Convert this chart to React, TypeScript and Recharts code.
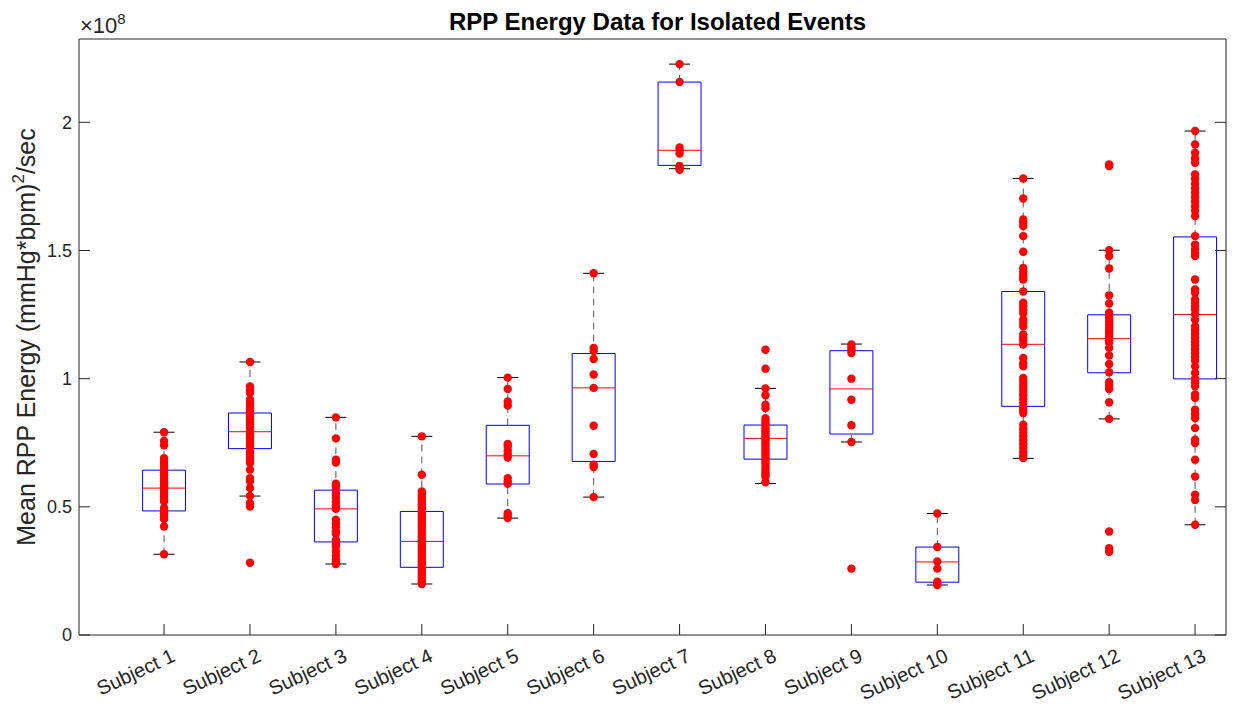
import {
  ComposedChart,
  XAxis,
  YAxis,
  Scatter,
  ReferenceArea,
  ReferenceLine,
  Label,
} from 'recharts';

// values are in units of 1e8 (mmHg*bpm)^2/sec
const subjects = [
  'Subject 1', 'Subject 2', 'Subject 3', 'Subject 4', 'Subject 5', 'Subject 6', 'Subject 7',
  'Subject 8', 'Subject 9', 'Subject 10', 'Subject 11', 'Subject 12', 'Subject 13',
];

const whiskerHigh = [0.791, 1.065, 0.849, 0.775, 1.004, 1.411, 2.227, 0.962, 1.135, 0.474, 1.781, 1.501, 1.966];
const upperQuartile = [0.643, 0.866, 0.565, 0.482, 0.818, 1.098, 2.157, 0.819, 1.109, 0.343, 1.34, 1.249, 1.553];
const medians = [0.573, 0.793, 0.492, 0.365, 0.699, 0.964, 1.891, 0.767, 0.96, 0.285, 1.134, 1.156, 1.25];
const lowerQuartile = [0.484, 0.727, 0.363, 0.264, 0.589, 0.677, 1.832, 0.686, 0.784, 0.206, 0.892, 1.023, 0.999];
const whiskerLow = [0.315, 0.542, 0.277, 0.199, 0.456, 0.538, 1.819, 0.591, 0.753, 0.195, 0.689, 0.843, 0.43];

const s1 = [0.791, 0.757, 0.74, 0.69, 0.68, 0.668, 0.655, 0.645, 0.635, 0.622, 0.61, 0.6, 0.59, 0.58, 0.573, 0.562, 0.55, 0.54, 0.53, 0.521, 0.495, 0.485, 0.475, 0.462, 0.452, 0.423, 0.315];
const s2 = [1.065, 0.97, 0.955, 0.944, 0.918, 0.905, 0.895, 0.885, 0.875, 0.866, 0.858, 0.85, 0.84, 0.83, 0.82, 0.81, 0.8, 0.793, 0.785, 0.775, 0.765, 0.755, 0.745, 0.735, 0.727, 0.715, 0.7, 0.69, 0.68, 0.671, 0.645, 0.612, 0.6, 0.573, 0.542, 0.514, 0.501, 0.282];
const s3 = [0.849, 0.767, 0.684, 0.673, 0.59, 0.58, 0.565, 0.55, 0.535, 0.52, 0.505, 0.492, 0.45, 0.435, 0.42, 0.405, 0.395, 0.371, 0.355, 0.345, 0.326, 0.31, 0.295, 0.285, 0.277];
const s4 = [0.775, 0.625, 0.56, 0.55, 0.54, 0.53, 0.52, 0.51, 0.5, 0.49, 0.48, 0.47, 0.46, 0.45, 0.44, 0.43, 0.42, 0.41, 0.4, 0.39, 0.38, 0.37, 0.365, 0.355, 0.345, 0.335, 0.325, 0.315, 0.305, 0.295, 0.285, 0.275, 0.265, 0.255, 0.245, 0.235, 0.225, 0.215, 0.205, 0.199];
const s5 = [1.004, 0.96, 0.911, 0.895, 0.745, 0.735, 0.72, 0.705, 0.692, 0.612, 0.6, 0.59, 0.475, 0.465, 0.456];
const s6 = [1.411, 1.12, 1.108, 1.077, 1.016, 0.964, 0.816, 0.706, 0.664, 0.655, 0.538];
const s7 = [2.227, 2.157, 1.902, 1.891, 1.878, 1.83, 1.822, 1.815];
const s8 = [1.113, 1.039, 0.962, 0.935, 0.898, 0.885, 0.846, 0.835, 0.825, 0.815, 0.805, 0.795, 0.785, 0.775, 0.767, 0.758, 0.748, 0.738, 0.728, 0.718, 0.708, 0.698, 0.688, 0.678, 0.668, 0.655, 0.645, 0.635, 0.625, 0.618, 0.596];
const s9 = [1.133, 1.122, 1.112, 1.1, 1.0, 0.918, 0.818, 0.753, 0.259];
const s10 = [0.474, 0.343, 0.287, 0.259, 0.208, 0.2, 0.195];
const s11 = [1.781, 1.703, 1.621, 1.608, 1.595, 1.556, 1.495, 1.432, 1.418, 1.405, 1.395, 1.387, 1.34, 1.296, 1.282, 1.268, 1.255, 1.23, 1.215, 1.204, 1.172, 1.16, 1.148, 1.133, 1.081, 1.06, 1.048, 1.003, 0.99, 0.975, 0.962, 0.948, 0.935, 0.92, 0.905, 0.89, 0.878, 0.866, 0.82, 0.805, 0.79, 0.775, 0.76, 0.745, 0.73, 0.715, 0.7, 0.69];
const s12 = [1.836, 1.829, 1.501, 1.478, 1.43, 1.325, 1.293, 1.257, 1.245, 1.235, 1.222, 1.21, 1.198, 1.186, 1.175, 1.163, 1.15, 1.14, 1.12, 1.09, 1.057, 1.025, 0.986, 0.972, 0.96, 0.908, 0.843, 0.404, 0.339, 0.325];
const s13 = [1.966, 1.914, 1.881, 1.86, 1.842, 1.797, 1.78, 1.76, 1.742, 1.725, 1.708, 1.69, 1.672, 1.655, 1.634, 1.556, 1.523, 1.505, 1.49, 1.478, 1.387, 1.348, 1.335, 1.309, 1.295, 1.282, 1.27, 1.25, 1.23, 1.204, 1.19, 1.175, 1.16, 1.145, 1.13, 1.115, 1.1, 1.085, 1.07, 1.048, 1.022, 1.0, 0.985, 0.97, 0.938, 0.925, 0.879, 0.862, 0.846, 0.807, 0.762, 0.749, 0.684, 0.618, 0.547, 0.527, 0.43];

const subjectPoints = [s1, s2, s3, s4, s5, s6, s7, s8, s9, s10, s11, s12, s13];
const yTicks = [0, 0.5, 1, 1.5, 2];

const FONT = '"Liberation Sans", Arial, Helvetica, sans-serif';
const AXIS_COLOR = '#262626';
const BOX_HALF = 0.25;
const CAP_HALF = 0.122;

const positions = subjects.map((_, i) => i + 1);
const pointData = subjectPoints.flatMap((vals, i) => vals.map((v) => ({ x: i + 1, y: v })));

function SubjectTick(props: any) {
  const { x, y, payload } = props;
  const px = x + 6;
  return (
    <text
      x={px}
      y={y}
      dy="0.75em"
      textAnchor="end"
      transform={`rotate(-25, ${px}, ${y})`}
      fontSize={20}
      fontFamily={FONT}
      fill={AXIS_COLOR}
    >
      {subjects[payload.value - 1]}
    </text>
  );
}

const NoTick = () => <g />;

const Dot = (props: any) => <circle cx={props.cx} cy={props.cy} r={4.2} fill="#ff0000" />;

// y label plus the x10^8 exponent above the left axis
function YTitle(props: any) {
  const { viewBox } = props;
  const x = viewBox.x + 16;
  const y = viewBox.y + viewBox.height / 2;
  const axisX = viewBox.x + viewBox.width;
  return (
    <g fontFamily={FONT} fill={AXIS_COLOR}>
      <text
        x={x}
        y={y}
        textAnchor="middle"
        transform={`rotate(-90, ${x}, ${y})`}
        fontSize={25}
      >
        Mean RPP Energy (mmHg*bpm)
        <tspan fontSize={17} dy={-11}>2</tspan>
        <tspan dy={11}>/sec</tspan>
      </text>
      <text x={axisX + 1} y={viewBox.y - 6} fontSize={22}>
        ×10
        <tspan fontSize={15} dy={-9}>8</tspan>
      </text>
    </g>
  );
}

function TopTitle(props: any) {
  const { viewBox } = props;
  const bottom = viewBox.y + viewBox.height;
  return (
    <text
      x={viewBox.x + viewBox.width / 2 + 5}
      y={bottom - 9}
      textAnchor="middle"
      fill="#000"
      fontFamily={FONT}
      fontSize={24}
      fontWeight="bold"
    >
      RPP Energy Data for Isolated Events
    </text>
  );
}

export default function App() {
  const xDomain = [0.01, 13.36];
  const yDomain = [0, 2.325];

  return (
    <div style={{ width: 1230, height: 700 }}>
      <ComposedChart width={1230} height={700} margin={{ top: 21, right: 2, bottom: 13, left: 11 }}>
        <XAxis
          type="number"
          dataKey="x"
          domain={xDomain}
          ticks={positions}
          interval={0}
          allowDataOverflow
          height={60}
          stroke={AXIS_COLOR}
          tickSize={-11}
          tickMargin={23}
          tick={<SubjectTick />}
        />
        <XAxis
          xAxisId="top"
          orientation="top"
          type="number"
          domain={xDomain}
          ticks={positions}
          interval={0}
          allowDataOverflow
          height={10}
          stroke={AXIS_COLOR}
          tickSize={-11}
          tick={<NoTick />}
        >
          <Label content={<TopTitle />} />
        </XAxis>
        <YAxis
          type="number"
          dataKey="y"
          domain={yDomain}
          ticks={yTicks}
          interval={0}
          allowDataOverflow
          width={60}
          stroke={AXIS_COLOR}
          tickSize={-11}
          tickMargin={18}
          tick={{ fontSize: 18, fill: AXIS_COLOR, fontFamily: FONT }}
        >
          <Label content={<YTitle />} />
        </YAxis>
        <YAxis
          yAxisId="right"
          orientation="right"
          type="number"
          domain={yDomain}
          ticks={yTicks}
          interval={0}
          allowDataOverflow
          width={10}
          stroke={AXIS_COLOR}
          tickSize={-11}
          tick={<NoTick />}
        />

        {positions.map((p, i) => (
          <ReferenceLine
            key={`wu-${i}`}
            segment={[{ x: p, y: upperQuartile[i] }, { x: p, y: whiskerHigh[i] }]}
            stroke="#555"
            strokeDasharray="7 5"
          />
        ))}
        {positions.map((p, i) => (
          <ReferenceLine
            key={`wl-${i}`}
            segment={[{ x: p, y: whiskerLow[i] }, { x: p, y: lowerQuartile[i] }]}
            stroke="#555"
            strokeDasharray="7 5"
          />
        ))}
        {positions.map((p, i) => (
          <ReferenceLine
            key={`cu-${i}`}
            segment={[{ x: p - CAP_HALF, y: whiskerHigh[i] }, { x: p + CAP_HALF, y: whiskerHigh[i] }]}
            stroke="#000"
          />
        ))}
        {positions.map((p, i) => (
          <ReferenceLine
            key={`cl-${i}`}
            segment={[{ x: p - CAP_HALF, y: whiskerLow[i] }, { x: p + CAP_HALF, y: whiskerLow[i] }]}
            stroke="#000"
          />
        ))}
        {positions.map((p, i) => (
          <ReferenceArea
            key={`box-${i}`}
            x1={p - BOX_HALF}
            x2={p + BOX_HALF}
            y1={lowerQuartile[i]}
            y2={upperQuartile[i]}
            fill="none"
            fillOpacity={0}
            stroke="#0000ff"
            strokeOpacity={1}
          />
        ))}
        {positions.map((p, i) => (
          <ReferenceLine
            key={`med-${i}`}
            segment={[{ x: p - BOX_HALF, y: medians[i] }, { x: p + BOX_HALF, y: medians[i] }]}
            stroke="#ff0000"
          />
        ))}

        <Scatter data={pointData} shape={Dot} isAnimationActive={false} />
      </ComposedChart>
    </div>
  );
}
